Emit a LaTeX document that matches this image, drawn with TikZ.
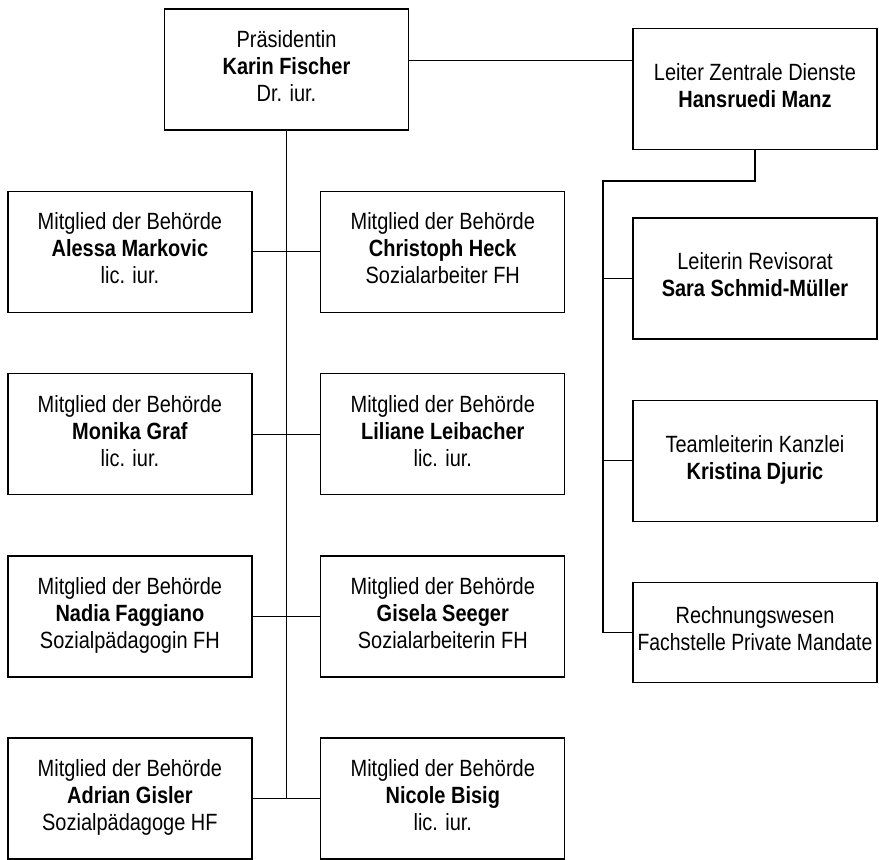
\documentclass[tikz,border=0pt]{standalone}
\usepackage{fontspec}
\setmainfont{Liberation Sans}[FakeStretch=0.85]
\begin{document}
\begin{tikzpicture}[x=1pt,y=-1pt,
  orgbox/.style={draw=black,line width=1.3pt,inner sep=0pt,
    minimum width=244pt,minimum height=121pt},
  orgtxt/.style={inner sep=0pt,align=center,yshift=0.5pt,
    font=\fontsize{23.5}{27}\selectfont},
  link/.style={draw=black,line width=1.3pt}]
\useasboundingbox (0,0) rectangle (879,860);
% boxes
\node[orgbox] (P) at (286.5,69.5) {};
\node[orgbox] (Z) at (755,89.3) {};
\node[orgbox] (L1) at (129.9,251.8) {};
\node[orgbox] (R1) at (442.8,251.8) {};
\node[orgbox] (L2) at (129.9,434.2) {};
\node[orgbox] (R2) at (442.8,434.2) {};
\node[orgbox] (L3) at (129.9,616.5) {};
\node[orgbox] (R3) at (442.8,616.5) {};
\node[orgbox] (L4) at (129.9,798.5) {};
\node[orgbox] (R4) at (442.8,798.5) {};
\node[orgbox] (RA) at (755,278.5) {};
\node[orgbox] (RB) at (755,460.7) {};
\node[orgbox,minimum height=100pt] (RC) at (755,632.3) {};
% texts
\node[orgtxt] (Pt) at (P.center) {\strut Präsidentin\\\textbf{Karin Fischer}\\Dr. iur.\strut};
\node[orgtxt] (Zt) at (Z.center) {\strut Leiter Zentrale Dienste\\\textbf{Hansruedi Manz}\strut};
\node[orgtxt] (L1t) at (L1.center) {\strut Mitglied der Behörde\\\textbf{Alessa Markovic}\\lic. iur.\strut};
\node[orgtxt] (R1t) at (R1.center) {\strut Mitglied der Behörde\\\textbf{Christoph Heck}\\Sozialarbeiter FH\strut};
\node[orgtxt] (L2t) at (L2.center) {\strut Mitglied der Behörde\\\textbf{Monika Graf}\\lic. iur.\strut};
\node[orgtxt] (R2t) at (R2.center) {\strut Mitglied der Behörde\\\textbf{Liliane Leibacher}\\lic. iur.\strut};
\node[orgtxt] (L3t) at (L3.center) {\strut Mitglied der Behörde\\\textbf{Nadia Faggiano}\\Sozialpädagogin FH\strut};
\node[orgtxt] (R3t) at (R3.center) {\strut Mitglied der Behörde\\\textbf{Gisela Seeger}\\Sozialarbeiterin FH\strut};
\node[orgtxt] (L4t) at (L4.center) {\strut Mitglied der Behörde\\\textbf{Adrian Gisler}\\Sozialpädagoge HF\strut};
\node[orgtxt] (R4t) at (R4.center) {\strut Mitglied der Behörde\\\textbf{Nicole Bisig}\\lic. iur.\strut};
\node[orgtxt] (RAt) at (RA.center) {\strut Leiterin Revisorat\\\textbf{Sara Schmid-Müller}\strut};
\node[orgtxt] (RBt) at (RB.center) {\strut Teamleiterin Kanzlei\\\textbf{Kristina Djuric}\strut};
\node[orgtxt] (RCt) at (RC.center) {\strut Rechnungswesen\\\scalebox{0.97}[1]{Fachstelle Private Mandate}\strut};
% connectors
\coordinate (pz) at (500,60.7);
\coordinate (sp) at (603,181);
\draw[link] (P.east |- pz) -- (Z.west |- pz);
\draw[link] (P.south) -- (P.south |- L4.east);
\draw[link] (L1.east) -- (R1.west);
\draw[link] (L2.east) -- (R2.west);
\draw[link] (L3.east) -- (R3.west);
\draw[link] (L4.east) -- (R4.west);
\draw[link] (Z.south) |- (sp) |- (RC.west);
\draw[link] (sp |- RA.west) -- (RA.west);
\draw[link] (sp |- RB.west) -- (RB.west);
\end{tikzpicture}
\end{document}
